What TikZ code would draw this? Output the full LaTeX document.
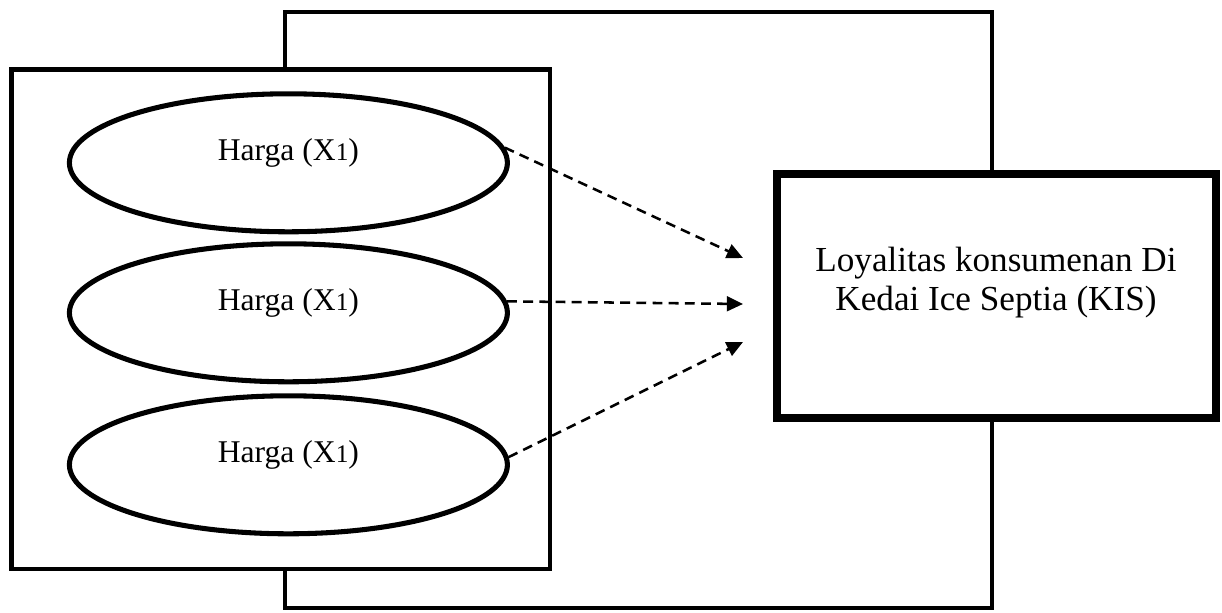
\documentclass[tikz,border=0pt]{standalone}
\usepackage{fontspec}
\setmainfont{Liberation Serif}
\usepackage{tikz}
\usetikzlibrary{shapes,arrows.meta}
\tikzstyle{frame}=[line width=3.2pt, line join=miter]
\tikzstyle{oval}=[ellipse, draw, fill=white, line width=3.6pt, inner sep=0pt, minimum width=10.95cm, minimum height=3.45cm]
\tikzstyle{lbl}=[font=\fontsize{22.5}{27}\selectfont]
\tikzstyle{target}=[draw, fill=white, line width=5.5pt, minimum width=10.97cm, minimum height=6.1cm]
\tikzstyle{link}=[line width=1.8pt, dash pattern=on 7pt off 4.5pt, -{Triangle[length=11.5pt, width=10.5pt]}]
\newcommand{\hx}{Harga (X{\fontsize{18}{20}\selectfont 1})}

\begin{document}
\begin{tikzpicture}
\useasboundingbox (0, 0) rectangle (30.55, 15.3);

\draw (7.125, 0.1) rectangle (24.8, 15.0) [frame];
\draw (0.29, 1.08) rectangle (13.75, 13.56) [frame, fill=white];

\draw (7.21, 11.23) node (el1) [oval] {};
\draw (7.21, 11.48) node (h1) [lbl] {\hx};
\draw (7.21, 7.48) node (el2) [oval] {};
\draw (7.21, 7.73) node (h2) [lbl] {\hx};
\draw (7.21, 3.68) node (el3) [oval] {};
\draw (7.21, 3.93) node (h3) [lbl] {\hx};

\draw (24.91, 7.9) node (kis) [target] {};
\draw (24.9, 8.23) node (kistext) [lbl, font=\fontsize{25}{27.5}\selectfont, align=center] {Loyalitas konsumenan Di\\Kedai Ice Septia (KIS)};

\coordinate (t1) at (18.575, 8.85);
\coordinate (t2) at (18.575, 7.7);
\coordinate (t3) at (18.575, 6.75);

\draw [link] (el1.4) -- (t1);
\draw [link] (el2.3) -- (t2);
\draw [link] (el3.2) -- (t3);

\end{tikzpicture}
\end{document}
